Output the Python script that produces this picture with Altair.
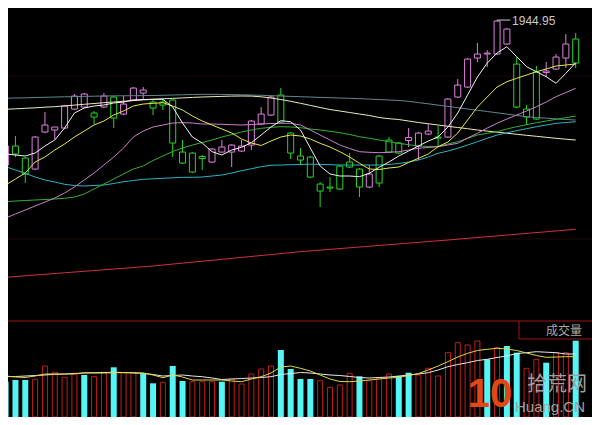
import altair as alt
import pandas as pd

# ---------------- data ----------------
idx = list(range(59))

open_ = [1799.95, 1818.95, 1806.95, 1795.95, 1832.95, 1834.95, 1836.95, 1855.95, 1857.95, 1851.95,
         1857.95, 1867.95, 1850.95, 1864.95, 1871.95, 1862.95, 1862.95, 1864.95, 1812.95, 1811.95,
         1808.45, 1802.95, 1812.95, 1812.95, 1813.95, 1819.95, 1840.95, 1849.95, 1869.95, 1831.95,
         1808.95, 1807.95, 1780.95, 1777.95, 1798.95, 1802.95, 1795.95, 1777.95, 1808.95, 1824.95,
         1821.95, 1824.45, 1818.95, 1830.95, 1827.95, 1827.95, 1867.95, 1877.95, 1906.95, 1910.95,
         1910.95, 1920.95, 1900.95, 1855.95, 1892.95, 1892.45, 1895.95, 1906.95, 1925.95]
high = [1819.95, 1828.95, 1807.95, 1828.95, 1852.95, 1837.95, 1859.95, 1870.95, 1871.95, 1853.95,
        1871.95, 1868.95, 1868.95, 1877.95, 1877.95, 1864.95, 1865.95, 1865.95, 1824.95, 1812.95,
        1809.95, 1816.95, 1824.95, 1820.95, 1824.95, 1844.95, 1857.95, 1868.95, 1876.95, 1832.95,
        1816.95, 1808.95, 1782.95, 1787.95, 1799.95, 1811.95, 1796.95, 1799.95, 1809.95, 1827.95,
        1822.95, 1836.95, 1832.95, 1840.95, 1838.95, 1866.95, 1885.95, 1906.95, 1921.95, 1914.95,
        1944.95, 1936.95, 1907.95, 1859.95, 1898.95, 1902.95, 1910.95, 1930.95, 1931.95]
low = [1798.95, 1807.95, 1781.95, 1794.95, 1831.95, 1825.95, 1835.95, 1854.95, 1856.95, 1840.95,
       1856.95, 1836.95, 1849.95, 1863.95, 1865.95, 1849.95, 1854.95, 1807.95, 1800.95, 1791.95,
       1794.95, 1801.95, 1811.95, 1797.95, 1812.95, 1814.95, 1839.95, 1848.95, 1841.95, 1805.95,
       1799.95, 1786.95, 1757.95, 1772.95, 1774.95, 1796.95, 1767.95, 1776.95, 1777.95, 1811.95,
       1810.95, 1817.95, 1804.95, 1829.95, 1817.95, 1826.95, 1866.95, 1876.95, 1902.95, 1897.95,
       1909.95, 1919.95, 1856.95, 1839.95, 1844.95, 1887.95, 1894.95, 1896.95, 1896.95]
close = [1818.95, 1810.95, 1790.95, 1827.95, 1839.95, 1837.95, 1858.95, 1868.95, 1870.95, 1847.95,
         1868.95, 1846.95, 1860.95, 1876.95, 1874.95, 1856.95, 1859.95, 1821.95, 1801.95, 1792.95,
         1806.45, 1815.95, 1817.95, 1819.95, 1818.95, 1843.95, 1850.95, 1867.95, 1842.95, 1811.95,
         1804.95, 1787.95, 1773.95, 1776.95, 1775.95, 1797.95, 1777.95, 1790.95, 1781.95, 1812.95,
         1811.95, 1827.45, 1831.95, 1833.95, 1826.95, 1865.95, 1879.95, 1905.95, 1910.95, 1911.95,
         1943.95, 1935.95, 1857.95, 1847.95, 1845.95, 1893.95, 1907.95, 1920.95, 1901.95]

ma5 = [1811.0, 1810.0, 1809.0, 1812.0, 1819.0, 1825.0, 1837.0, 1852.0, 1857.0, 1859.0,
       1860.0, 1862.0, 1863.0, 1865.0, 1865.5, 1865.7, 1865.7, 1858.0, 1842.0, 1828.0,
       1822.0, 1813.3, 1810.0, 1815.0, 1817.7, 1822.3, 1830.0, 1838.0, 1844.3, 1843.3,
       1835.0, 1817.0, 1799.0, 1791.0, 1789.0, 1789.0, 1788.3, 1791.7, 1797.7, 1803.0,
       1809.0, 1814.0, 1819.0, 1824.0, 1828.0, 1838.0, 1852.0, 1870.0, 1888.0, 1902.0,
       1912.0, 1918.3, 1908.3, 1898.3, 1893.3, 1888.3, 1881.7, 1891.7, 1902.3]
ma10 = [1780.0, 1786.0, 1792.0, 1803.0, 1808.0, 1815.0, 1821.0, 1828.0, 1834.0, 1840.0,
        1844.0, 1850.0, 1854.0, 1859.0, 1861.0, 1861.7, 1862.3, 1859.0, 1855.0, 1849.0,
        1844.0, 1840.0, 1836.0, 1832.0, 1826.0, 1822.0, 1819.5, 1824.0, 1828.0, 1830.0,
        1829.0, 1826.0, 1821.7, 1818.0, 1813.3, 1808.0, 1801.7, 1796.0, 1795.5, 1797.0,
        1798.0, 1802.5, 1806.7, 1811.0, 1818.3, 1823.0, 1832.0, 1845.0, 1858.0, 1868.0,
        1878.0, 1883.3, 1886.7, 1890.0, 1893.3, 1896.0, 1899.0, 1900.0, 1901.0]
ma20 = [1747.0, 1751.0, 1755.0, 1759.0, 1763.0, 1767.0, 1772.0, 1778.0, 1785.0, 1792.0,
        1800.0, 1808.0, 1817.0, 1828.0, 1834.0, 1838.0, 1840.0, 1842.0, 1842.3, 1842.0,
        1841.0, 1841.0, 1840.7, 1840.3, 1840.0, 1840.5, 1841.0, 1841.5, 1841.7, 1841.7,
        1840.0, 1835.0, 1830.0, 1825.0, 1820.0, 1816.5, 1813.3, 1812.7, 1812.3, 1812.7,
        1813.3, 1815.0, 1816.7, 1817.5, 1818.3, 1820.0, 1821.7, 1827.0, 1831.7, 1837.0,
        1841.7, 1846.0, 1850.0, 1854.0, 1858.3, 1863.0, 1868.3, 1872.5, 1876.7]
ma30 = [1763.3, 1764.0, 1764.5, 1765.0, 1765.5, 1766.0, 1766.7, 1768.0, 1771.0, 1776.0,
        1781.0, 1786.0, 1791.0, 1796.0, 1799.0, 1804.5, 1809.0, 1813.5, 1817.0, 1820.0,
        1822.5, 1825.0, 1828.0, 1830.5, 1833.0, 1835.0, 1836.7, 1837.7, 1838.3, 1838.0,
        1837.3, 1836.0, 1835.0, 1833.7, 1832.3, 1830.5, 1828.3, 1826.7, 1825.0, 1823.3,
        1821.7, 1820.3, 1819.0, 1818.5, 1818.3, 1821.0, 1823.3, 1826.5, 1830.0, 1831.7,
        1833.3, 1836.0, 1838.3, 1840.3, 1842.3, 1844.0, 1845.7, 1847.3, 1849.0]
ma60 = [1798.3, 1795.0, 1791.7, 1788.0, 1785.0, 1783.0, 1780.7, 1779.5, 1779.0, 1779.5,
        1780.0, 1781.5, 1783.3, 1784.5, 1785.7, 1786.2, 1786.7, 1787.2, 1787.7, 1787.7,
        1788.0, 1789.0, 1790.0, 1792.0, 1794.3, 1796.3, 1798.3, 1799.7, 1800.0, 1800.3,
        1800.5, 1800.8, 1800.7, 1800.3, 1800.0, 1800.0, 1800.0, 1800.0, 1800.0, 1800.5,
        1801.5, 1803.0, 1805.0, 1808.0, 1811.7, 1814.0, 1816.7, 1820.0, 1823.3, 1826.7,
        1830.0, 1832.2, 1834.3, 1836.3, 1838.3, 1840.0, 1841.7, 1842.5, 1843.3]
ma120 = [1855.7, 1856.2, 1856.7, 1857.2, 1857.8, 1858.3, 1859.1, 1859.9, 1860.7, 1861.5,
         1862.3, 1863.0, 1863.7, 1864.4, 1865.1, 1865.7, 1866.2, 1866.6, 1867.1, 1867.6,
         1868.0, 1868.3, 1868.6, 1868.9, 1869.0, 1868.9, 1868.2, 1867.0, 1865.5, 1863.7,
         1861.7, 1859.6, 1857.5, 1855.5, 1854.0, 1852.5, 1851.0, 1849.5, 1847.5, 1846.3,
         1845.5, 1844.0, 1842.5, 1841.3, 1840.0, 1838.7, 1837.5, 1836.3, 1835.0, 1833.9,
         1832.8, 1831.8, 1830.7, 1829.7, 1828.7, 1827.7, 1826.7, 1825.8, 1825.0]
ma250 = [1866.7, 1867.0, 1867.2, 1867.5, 1867.7, 1868.0, 1868.2, 1868.4, 1868.6, 1868.8,
         1869.0, 1869.1, 1869.2, 1869.3, 1869.4, 1869.5, 1869.7, 1870.0, 1870.2, 1870.5,
         1870.7, 1870.7, 1870.6, 1870.4, 1870.2, 1870.0, 1869.7, 1869.3, 1869.0, 1868.6,
         1868.3, 1868.0, 1867.6, 1867.3, 1867.0, 1866.7, 1866.3, 1865.9, 1865.5, 1865.0,
         1864.5, 1863.7, 1862.4, 1861.2, 1859.9, 1858.6, 1857.3, 1856.0, 1854.7, 1853.5,
         1852.2, 1850.9, 1849.6, 1848.3, 1847.5, 1846.8, 1846.1, 1845.5, 1845.0]

long_idx = [0, 15, 30, 45, 58]
long_ma = [1687.7, 1699.0, 1713.3, 1725.0, 1735.7]

vol = [353, 370, 370, 377, 510, 447, 397, 437, 420, 403,
       447, 497, 443, 447, 437, 337, 347, 510, 360, 353,
       353, 353, 353, 380, 330, 430, 480, 510, 670, 480,
       380, 380, 363, 297, 320, 437, 407, 363, 392, 430,
       410, 443, 420, 487, 410, 643, 743, 720, 760, 577,
       693, 710, 643, 487, 577, 543, 643, 643, 763]
vol_up = [0, 0, 0, 1, 1, 1, 1, 1, 0, 1,
          1, 0, 1, 1, 0, 0, 1, 0, 0, 1,
          1, 1, 0, 1, 1, 1, 1, 1, 0, 0,
          0, 0, 1, 1, 1, 1, 0, 1, 1, 1,
          0, 0, 1, 1, 1, 1, 1, 1, 1, 0,
          1, 0, 0, 1, 1, 0, 1, 1, 0]
vma5 = [410, 400, 395, 410, 430, 430, 430, 430, 443, 440,
        440, 443, 443, 443, 440, 420, 393, 420, 400, 370,
        370, 370, 370, 360, 353, 380, 403, 440, 500, 510,
        487, 460, 420, 380, 355, 353, 360, 370, 380, 390,
        397, 415, 435, 470, 510, 553, 600, 637, 665, 677,
        687, 680, 665, 640, 615, 597, 600, 603, 603]
vma10 = [403, 405, 410, 415, 420, 427, 430, 435, 440, 443,
         445, 447, 445, 440, 437, 425, 410, 415, 420, 410,
         403, 390, 375, 380, 385, 390, 395, 403, 425, 435,
         445, 440, 430, 420, 415, 405, 395, 390, 395, 400,
         410, 420, 430, 443, 470, 503, 525, 543, 565, 577,
         595, 610, 635, 643, 653, 648, 643, 630, 630]

grid_prices = [1889, 1726]
peak_idx = [50]
peak_end = [51.35]
peak_price = [1944.95]
peak_text = ["1944.95"]

# ---------------- styling ----------------
UP = "#e07ee0"
DOWN = "#22d822"
VRED = "#c41c1c"
VCYAN = "#55f5f5"
LINE_COLORS = [("ma250", "#5e8890"), ("ma120", "#ecebb8"), ("ma60", "#2cb4c4"),
               ("ma30", "#34b034"), ("ma20", "#cc80cc"), ("ma10", "#e8e84a"),
               ("ma5", "#f2f2f2")]

W, H = 584, 409

df = pd.DataFrame({"i": idx, "open": open_, "high": high, "low": low, "close": close,
                   "ma5": ma5, "ma10": ma10, "ma20": ma20, "ma30": ma30, "ma60": ma60,
                   "ma120": ma120, "ma250": ma250,
                   "vol": vol, "vol_up": vol_up, "vma5": vma5, "vma10": vma10})
long_df = pd.DataFrame({"i": long_idx, "v": long_ma})
grid_df = pd.DataFrame({"g": grid_prices})
peak_df = pd.DataFrame({"i": peak_idx, "i2": peak_end, "p": peak_price, "t": peak_text})
one = pd.DataFrame({"k": [0]})

X = alt.X("i:Q", scale=alt.Scale(domain=[0.75, 59.15], nice=False, zero=False), axis=None)
PY = alt.Scale(domain=[1548, 1957], nice=False, zero=False)
VY = alt.Scale(domain=[0, 4090], nice=False, zero=False)


def py(field):
    return alt.Y(field, scale=PY, axis=None)


base = alt.Chart(df)
cand_color = alt.condition("datum.close >= datum.open", alt.value(UP), alt.value(DOWN))

grid = alt.Chart(grid_df).mark_rule(color="#1e0707", strokeWidth=1).encode(y=py("g:Q"))
long_line = alt.Chart(long_df).mark_line(color="#d03040", strokeWidth=1).encode(x=X, y=py("v:Q"))
wicks = base.mark_rule(strokeWidth=1).encode(x=X, y=py("low:Q"), y2="high:Q", color=cand_color)
bodies = base.mark_bar(size=6, fill="black", strokeWidth=1, fillOpacity=1).encode(
    x=X, y=py("open:Q"), y2="close:Q", stroke=cand_color)
ma_layers = [base.mark_line(color=c, strokeWidth=1).encode(x=X, y=py(f"{col}:Q"))
             for col, c in LINE_COLORS]
peak_rule = alt.Chart(peak_df).mark_rule(color="#c8c8c8", strokeWidth=1).encode(
    x=X, x2="i2:Q", y=py("p:Q"))
peak_label = alt.Chart(peak_df).mark_text(align="left", baseline="middle", dx=15, dy=1,
                                          fontSize=12, font="Liberation Sans",
                                          color="#c8c8c8").encode(x=X, y=py("p:Q"), text="t:N")

price = alt.layer(grid, long_line, wicks, bodies, *ma_layers, peak_rule, peak_label)

vy = alt.Y("vol:Q", scale=VY, axis=None, stack=None)
vol_red = base.transform_filter("datum.vol_up == 1").mark_bar(
    size=5, fill="black", fillOpacity=1, stroke=VRED, strokeWidth=1).encode(x=X, y=vy)
vol_cyan = base.transform_filter("datum.vol_up == 0").mark_bar(
    size=6, color=VCYAN).encode(x=X, y=vy)
vline5 = base.mark_line(color="#e0d840", strokeWidth=1).encode(
    x=X, y=alt.Y("vma5:Q", scale=VY, axis=None))
vline10 = base.mark_line(color="#e8e8e8", strokeWidth=1).encode(
    x=X, y=alt.Y("vma10:Q", scale=VY, axis=None))
volume = alt.layer(vol_red, vol_cyan, vline10, vline5)

# ---------------- decorations (pixel positions) ----------------
sep = alt.Chart(one).mark_rule(color="#a01414", strokeWidth=1).encode(
    x=alt.value(0), x2=alt.value(W), y=alt.value(313))
box_left = alt.Chart(one).mark_rule(color="#a01414", strokeWidth=1).encode(
    x=alt.value(511), y=alt.value(313), y2=alt.value(331))
box_bottom = alt.Chart(one).mark_rule(color="#a01414", strokeWidth=1).encode(
    x=alt.value(511), x2=alt.value(W), y=alt.value(331))
vol_title = alt.Chart(one).mark_text(fontSize=12, font="Noto Sans CJK SC", color="#a8a8a8",
                                     align="center", baseline="middle").encode(
    x=alt.value(556), y=alt.value(323), text=alt.value("成交量"))
wm_10 = alt.Chart(one).mark_text(fontSize=40, fontWeight="bold", font="Liberation Sans",
                                 color="#e04818", align="center", baseline="middle").encode(
    x=alt.value(482), y=alt.value(387), text=alt.value("10"))
wm_cn = alt.Chart(one).mark_text(fontSize=20, font="Noto Sans CJK SC", color="#a0a0a0",
                                 align="center", baseline="middle").encode(
    x=alt.value(549), y=alt.value(377), text=alt.value("拾荒网"))
wm_en = alt.Chart(one).mark_text(fontSize=15, font="Liberation Sans", color="#a0a0a0",
                                 align="center", baseline="middle").encode(
    x=alt.value(542), y=alt.value(399), text=alt.value("Huang.CN"))
deco = alt.layer(sep, box_left, box_bottom, vol_title, wm_10, wm_cn, wm_en)

chart = alt.layer(price, volume, deco).resolve_scale(y="independent").properties(
    width=W, height=H, padding=0, background="black",
    autosize=alt.AutoSizeParams(type="none")
).configure_view(strokeWidth=0)

chart.save("out.html", embed_options={"renderer": "svg", "actions": False})
